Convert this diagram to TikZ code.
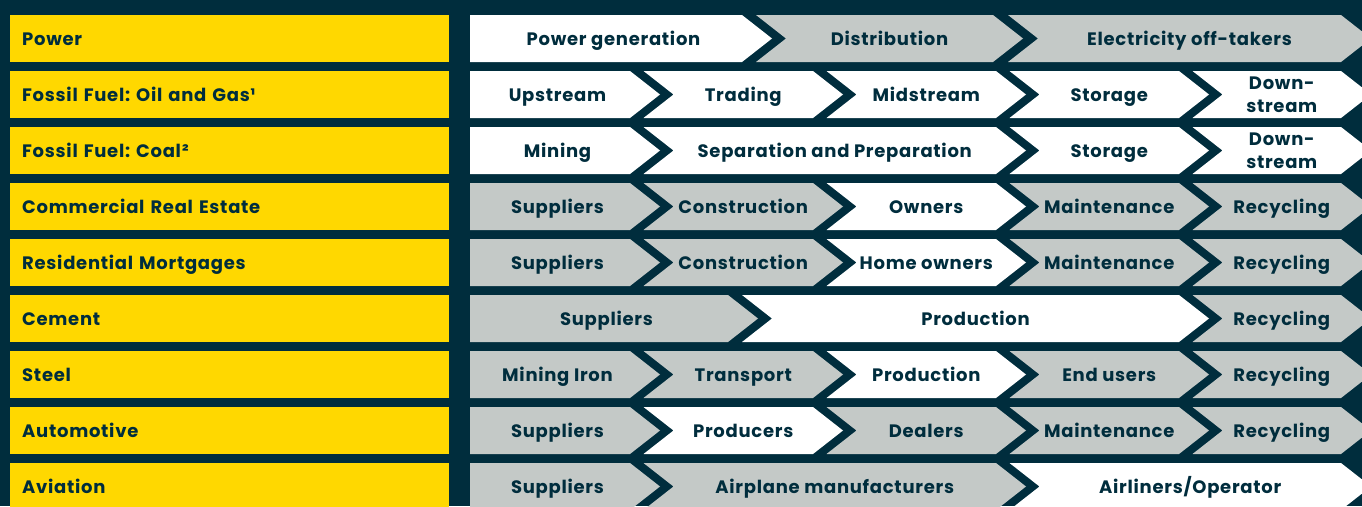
\documentclass[tikz,border=0pt]{standalone}
\usepackage{fontspec}
\setmainfont{Poppins}[LetterSpace=4]
\frenchspacing
\definecolor{navy}{HTML}{002D3D}
\definecolor{gold}{HTML}{FFD800}
\definecolor{stone}{HTML}{C4C9C7}
\tikzset{
  lab/.style={font=\bfseries\fontsize{18}{23.5}\selectfont, text=navy, inner sep=0pt, text height=14pt, text depth=0pt},
  labtwo/.style={font=\bfseries\fontsize{18}{23.5}\selectfont, text=navy, inner sep=0pt, align=center, yshift=-0.5pt},
  ybox/.style={fill=gold, anchor=north west, minimum width=439pt, minimum height=47pt, text width=415pt, align=left, inner xsep=12pt, inner ysep=0pt, font=\bfseries\fontsize{18}{23.5}\selectfont, text=navy, text height=14pt, text depth=0pt}
}
% #1 name, #2 row top, #3 L, #4 R, #5 fill, #6 notch depth, #7 label style, #8 text
\newcommand\piece[8]{%
  \fill[#5] (#3,#2) -- (#4,#2) -- ({#4+30},{#2+23.5}) -- (#4,{#2+47}) -- (#3,{#2+47}) -- ({#3+#6},{#2+23.5}) -- cycle;
  \node[#7] (#1) at ({(#3+#6/2-15+#4+30)/2},{#2+23.5}) {#8};
}
\begin{document}
\begin{tikzpicture}[x=1pt,y=-1pt]
\useasboundingbox (0,0) rectangle (1362,506);
\clip (0,0) rectangle (1362,506);
\fill[navy] (0,0) rectangle (1362,506);
% left boxes
\node[ybox] (c1) at (10,15) {Power};
\node[ybox] (c2) at (10,71) {Fossil Fuel: Oil and Gas¹};
\node[ybox] (c3) at (10,127) {Fossil Fuel: Coal²};
\node[ybox] (c4) at (10,183) {Commercial Real Estate};
\node[ybox] (c5) at (10,239) {Residential Mortgages};
\node[ybox] (c6) at (10,295) {Cement};
\node[ybox] (c7) at (10,351) {Steel};
\node[ybox] (c8) at (10,407) {Automotive};
\node[ybox] (c9) at (10,463) {Aviation};
% row 1
\piece{a1}{15}{470}{742}{white}{0}{lab}{Power generation}
\piece{a2}{15}{756}{993}{stone}{30}{lab}{Distribution}
\piece{a3}{15}{1008}{1341}{stone}{30}{lab}{Electricity off-takers}
% row 2
\piece{b1}{71}{470}{630}{white}{0}{lab}{Upstream}
\piece{b2}{71}{643.5}{813}{white}{30}{lab}{Trading}
\piece{b3}{71}{826.5}{996}{white}{30}{lab}{Midstream}
\piece{b4}{71}{1009.5}{1179}{white}{30}{lab}{Storage}
\piece{b5}{71}{1192.5}{1341}{white}{30}{labtwo}{Down-\\stream}
% row 3
\piece{d1}{127}{470}{630}{white}{0}{lab}{Mining}
\piece{d2}{127}{643.5}{996}{white}{30}{lab}{Separation and Preparation}
\piece{d3}{127}{1009.5}{1179}{white}{30}{lab}{Storage}
\piece{d4}{127}{1192.5}{1341}{white}{30}{labtwo}{Down-\\stream}
% row 4
\piece{e1}{183}{470}{630}{stone}{0}{lab}{Suppliers}
\piece{e2}{183}{643.5}{813}{stone}{30}{lab}{Construction}
\piece{e3}{183}{826.5}{996}{white}{30}{lab}{Owners}
\piece{e4}{183}{1009.5}{1179}{stone}{30}{lab}{Maintenance}
\piece{e5}{183}{1192.5}{1341}{stone}{30}{lab}{Recycling}
% row 5
\piece{f1}{239}{470}{630}{stone}{0}{lab}{Suppliers}
\piece{f2}{239}{643.5}{813}{stone}{30}{lab}{Construction}
\piece{f3}{239}{826.5}{996}{white}{30}{lab}{Home owners}
\piece{f4}{239}{1009.5}{1179}{stone}{30}{lab}{Maintenance}
\piece{f5}{239}{1192.5}{1341}{stone}{30}{lab}{Recycling}
% row 6
\piece{g1}{295}{470}{728}{stone}{0}{lab}{Suppliers}
\piece{g2}{295}{742}{1179}{white}{30}{lab}{Production}
\piece{g3}{295}{1192.5}{1341}{stone}{30}{lab}{Recycling}
% row 7
\piece{h1}{351}{470}{630}{stone}{0}{lab}{Mining Iron}
\piece{h2}{351}{643.5}{813}{stone}{30}{lab}{Transport}
\piece{h3}{351}{826.5}{996}{white}{30}{lab}{Production}
\piece{h4}{351}{1009.5}{1179}{stone}{30}{lab}{End users}
\piece{h5}{351}{1192.5}{1341}{stone}{30}{lab}{Recycling}
% row 8
\piece{i1}{407}{470}{630}{stone}{0}{lab}{Suppliers}
\piece{i2}{407}{643.5}{813}{white}{30}{lab}{Producers}
\piece{i3}{407}{826.5}{996}{stone}{30}{lab}{Dealers}
\piece{i4}{407}{1009.5}{1179}{stone}{30}{lab}{Maintenance}
\piece{i5}{407}{1192.5}{1341}{stone}{30}{lab}{Recycling}
% row 9
\piece{j1}{463}{470}{630}{stone}{0}{lab}{Suppliers}
\piece{j2}{463}{643.5}{996}{stone}{30}{lab}{Airplane manufacturers}
\piece{j3}{463}{1009.5}{1341}{white}{30}{lab}{Airliners/Operator}
\end{tikzpicture}
\end{document}
